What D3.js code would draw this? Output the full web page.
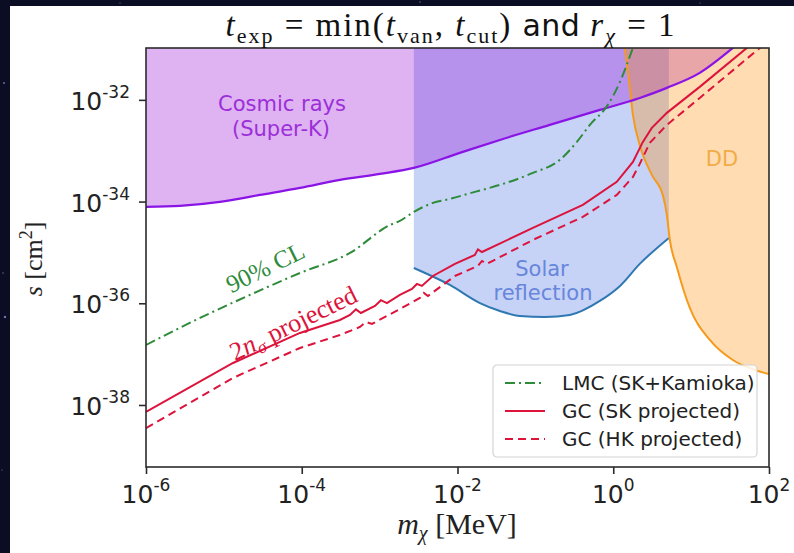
<!DOCTYPE html>
<html>
<head>
<meta charset="utf-8">
<script src="https://cdn.jsdelivr.net/npm/d3@7"></script>
<style>
  html, body { margin: 0; padding: 0; background: #0b0d24; }
  svg { display: block; }
  text { white-space: pre; }
</style>
</head>
<body>
<svg id="chart" width="794" height="553"></svg>
<script>
// ---- axis ticks ----
const xTicks = [1e-6, 1e-4, 1e-2, 1e0, 1e2];
const xTickExps = ["-6", "-4", "-2", "0", "2"];
const yTicks = [1e-32, 1e-34, 1e-36, 1e-38];
const yTickExps = ["-32", "-34", "-36", "-38"];

// ---- Cosmic rays (Super-K) exclusion boundary: m_chi [MeV], s [cm^2] ----
const cosmicMass = [1e-6, 2.73e-6, 8.91e-6, 2.90e-5, 9.48e-5, 3.09e-4, 1.01e-3, 2.75e-3,
                    0.0107, 0.035, 0.153, 0.673, 2.19, 4.88, 12.9, 34.3, 48.9];
const cosmicS    = [7.85e-35, 8.22e-35, 9.84e-35, 1.35e-34, 1.86e-34, 2.67e-34, 3.50e-34, 4.59e-34,
                    9.06e-34, 1.63e-33, 3.22e-33, 6.36e-33, 1.09e-32, 1.72e-32, 3.40e-32, 1.05e-31, 1.66e-31];

// ---- Solar reflection lower boundary ----
const solarMass = [2.75e-3, 7.98e-3, 0.0194, 0.035, 0.0632, 0.132, 0.277, 0.673, 1.22, 2.19, 5.18];
const solarS    = [4.95e-36, 2.29e-36, 1.01e-36, 7.06e-37, 5.63e-37, 5.38e-37, 5.89e-37,
                   1.11e-36, 2.19e-36, 5.94e-36, 1.93e-35];

// ---- Direct detection (DD) boundary ----
const ddMass = [1.33, 1.41, 1.59, 1.79, 2.19, 3.13, 4.33, 4.88, 5.33, 6.55, 9.62, 17.4, 34.3, 65.8, 100];
const ddS    = [2.2e-31, 1.05e-31, 2.47e-32, 5.07e-33, 1.30e-33, 3.34e-34, 1.35e-34, 5.47e-35,
                1.76e-35, 5.19e-36, 8.09e-37, 1.90e-37, 7.67e-38, 4.88e-38, 4.06e-38];

// ---- LMC (SK+Kamioka) 90% CL ----
const lmcMass = [1e-6, 4.93e-6, 2.16e-5, 9.48e-5, 4.16e-4, 1.36e-3, 1.82e-3, 2.75e-3, 4.83e-3,
                 7.98e-3, 0.0167, 0.035, 0.0929, 0.206, 0.341, 0.501, 0.853, 1.22, 1.79, 2.07];
const lmcS    = [1.51e-37, 5.14e-37, 1.46e-36, 3.94e-36, 9.77e-36, 3.47e-35, 4.17e-35, 6.26e-35, 9.41e-35,
                 1.13e-34, 1.55e-34, 2.13e-34, 3.66e-34, 6.61e-34, 1.49e-33, 3.22e-33, 7.98e-33, 2.26e-32,
                 1.05e-31, 1.9e-31];

// ---- GC (SK projected), 2 n_sigma ----
const gcSKMass = [1e-6, 1.31e-5, 9.48e-5, 3.09e-4, 4.16e-4, 4.97e-4, 5.75e-4, 8.71e-4, 1.04e-3, 1.24e-3,
                  1.82e-3, 2.60e-3, 3.01e-3, 3.49e-3, 4.83e-3, 9.27e-3, 0.0167, 0.0183, 0.0206, 0.0929,
                  0.407, 1.11, 1.79, 2.40, 3.13, 4.88, 12.9, 51.9, 65.8];
const gcSKS    = [7.28e-39, 6.70e-38, 2.61e-37, 4.70e-37, 5.89e-37, 7.6e-37, 6.45e-37, 8.85e-37, 1.15e-36,
                  1.01e-36, 1.46e-36, 1.91e-36, 2.4e-36, 2.19e-36, 3.44e-36, 5.94e-36, 8.92e-36, 1.15e-35,
                  1.02e-35, 3.03e-35, 8.6e-35, 2.44e-34, 6.03e-34, 1.49e-33, 2.81e-33, 5.55e-33, 1.80e-32,
                  1.05e-31, 1.45e-31];

// ---- GC (HK projected), 2 n_sigma ----
const gcHKMass = [1e-6, 1.31e-5, 9.48e-5, 3.09e-4, 5.59e-4, 6.67e-4, 7.96e-4, 1.82e-3, 3.29e-3, 3.70e-3,
                  4.17e-3, 9.27e-3, 0.0183, 0.0206, 0.0238, 0.0929, 0.407, 1.11, 1.79, 2.19, 2.95, 4.88,
                  12.9, 76.2, 96.6];
const gcHKS    = [3.52e-39, 3.40e-38, 1.32e-37, 2.38e-37, 3.42e-37, 4.3e-37, 3.92e-37, 7.73e-37, 1.27e-36,
                  1.6e-36, 1.39e-36, 3.44e-36, 5.42e-36, 6.8e-36, 5.94e-36, 1.76e-35, 4.99e-35, 1.35e-34,
                  3.05e-34, 5.51e-34, 1.43e-33, 3.22e-33, 1.09e-32, 1.05e-31, 1.38e-31];

// ---- legend ----
const legendLabels = ["LMC (SK+Kamioka)", "GC (SK projected)", "GC (HK projected)"];

const zip = (xs, ys) => xs.map((v, i) => [v, ys[i]]);

const svg = d3.select("#chart");
const W = 794, H = 553;
const plot = { left: 146, right: 769, top: 48, bottom: 467 };

// dark backdrop with a few stars, white figure panel on top
svg.append("rect").attr("width", W).attr("height", H).attr("fill", "#0b0d24");
const stars = [[4, 83, 0.9], [3, 273, 0.7], [5, 317, 1.2], [2, 470, 0.6], [120, 3, 0.6], [420, 2, 0.7], [700, 3, 0.6]];
svg.selectAll("circle.star").data(stars).join("circle")
  .attr("class", "star").attr("cx", d => d[0]).attr("cy", d => d[1]).attr("r", d => d[2])
  .attr("fill", "#9aa6d8").attr("opacity", 0.7);
svg.append("rect").attr("x", 10).attr("y", 6).attr("width", W - 10).attr("height", H - 6).attr("fill", "#ffffff");

const x = d3.scaleLog().domain([1e-6, 1e2]).range([plot.left, plot.right]);
const y = d3.scaleLog().domain([6.03e-40, 1.047e-31]).range([plot.bottom, plot.top]);

svg.append("clipPath").attr("id", "clip")
  .append("rect").attr("x", plot.left).attr("y", plot.top)
  .attr("width", plot.right - plot.left).attr("height", plot.bottom - plot.top);

const g = svg.append("g").attr("clip-path", "url(#clip)");

const smooth = d3.line().x(d => x(d[0])).y(d => y(d[1])).curve(d3.curveMonotoneX);
const straight = d3.line().x(d => x(d[0])).y(d => y(d[1]));
const areaAbove = d3.area().x(d => x(d[0])).y0(plot.top - 20).y1(d => y(d[1])).curve(d3.curveMonotoneX);

const cosmic = zip(cosmicMass, cosmicS);
const solar = zip(solarMass, solarS);
const dd = zip(ddMass, ddS);

// filled regions
g.append("path").attr("d", areaAbove(solar)).attr("fill", "#4169e1").attr("fill-opacity", 0.3);
g.append("path").attr("d", areaAbove(cosmic)).attr("fill", "#9400d3").attr("fill-opacity", 0.3);
const ddPoly = dd.concat([[x.domain()[1] * 2, ddS[ddS.length - 1]], [x.domain()[1] * 2, y.domain()[1] * 10], [ddMass[0], y.domain()[1] * 10]]);
g.append("path").attr("d", straight(ddPoly)).attr("fill", "#ff8c00").attr("fill-opacity", 0.3);

// region boundaries
g.append("path").attr("d", smooth(solar)).attr("fill", "none").attr("stroke", "#2f78b2").attr("stroke-width", 2);
g.append("path").attr("d", smooth(dd)).attr("fill", "none").attr("stroke", "#f59a1c").attr("stroke-width", 2);
g.append("path").attr("d", smooth(cosmic)).attr("fill", "none").attr("stroke", "#8a14e6").attr("stroke-width", 2.2);

// limit curves
g.append("path").attr("d", smooth(zip(lmcMass, lmcS))).attr("fill", "none")
  .attr("stroke", "#2e8b3a").attr("stroke-width", 2).attr("stroke-dasharray", "10,4,2,4");
g.append("path").attr("d", straight(zip(gcSKMass, gcSKS))).attr("fill", "none")
  .attr("stroke", "#dc143c").attr("stroke-width", 2);
g.append("path").attr("d", straight(zip(gcHKMass, gcHKS))).attr("fill", "none")
  .attr("stroke", "#dc143c").attr("stroke-width", 2).attr("stroke-dasharray", "8,5");

// region labels
const sans = "DejaVu Sans, sans-serif";
const serif = "Liberation Serif, Times New Roman, serif";
function label(txt, px, py, color, size) {
  svg.append("text").attr("x", px).attr("y", py).attr("text-anchor", "middle")
    .attr("font-family", sans).attr("font-size", size).attr("fill", color).text(txt);
}
label("Cosmic rays", 282, 111, "#9b2fd8", 21);
label("(Super-K)", 281, 136, "#9b2fd8", 21);
label("Solar", 542, 276, "#6786dc", 21);
label("reflection", 543, 300, "#6786dc", 21);
label("DD", 722, 166, "#f2ac45", 21);

svg.append("text").attr("transform", "translate(269,275) rotate(-26)")
  .attr("text-anchor", "middle").attr("font-family", serif).attr("font-size", 25)
  .attr("fill", "#2e8b3a").text("90% CL");

const proj = svg.append("text").attr("transform", "translate(297,331) rotate(-26)")
  .attr("text-anchor", "middle").attr("font-family", serif).attr("font-size", 26).attr("fill", "#dc143c");
proj.append("tspan").text("2");
proj.append("tspan").attr("font-style", "italic").text("n");
proj.append("tspan").attr("font-style", "italic").attr("font-size", 18).attr("dy", 5).text("σ");
proj.append("tspan").attr("dy", -5).text(" projected");

// axes frame
svg.append("rect").attr("x", plot.left).attr("y", plot.top)
  .attr("width", plot.right - plot.left).attr("height", plot.bottom - plot.top)
  .attr("fill", "none").attr("stroke", "#2b2b2b").attr("stroke-width", 1.6);

const xAxis = svg.append("g").attr("transform", `translate(0,${plot.bottom})`)
  .call(d3.axisBottom(x).tickValues(xTicks).tickSize(7).tickFormat(""));
const yAxis = svg.append("g").attr("transform", `translate(${plot.left},0)`)
  .call(d3.axisLeft(y).tickValues(yTicks).tickSize(7).tickFormat(""));
[xAxis, yAxis].forEach(a => {
  a.select(".domain").remove();
  a.selectAll(".tick line").attr("stroke", "#2b2b2b").attr("stroke-width", 1.6);
});

// power-of-ten tick labels
xTicks.forEach((v, i) => {
  const t = svg.append("text").attr("x", x(v)).attr("y", plot.bottom + 36)
    .attr("text-anchor", "middle").attr("font-family", sans).attr("font-size", 25).attr("fill", "#222");
  t.append("tspan").text("10");
  t.append("tspan").attr("font-size", 17).attr("dy", -12).text(xTickExps[i]);
});
yTicks.forEach((v, i) => {
  const t = svg.append("text").attr("x", 130).attr("y", y(v) + 10)
    .attr("text-anchor", "end").attr("font-family", sans).attr("font-size", 25).attr("fill", "#222");
  t.append("tspan").text("10");
  t.append("tspan").attr("font-size", 17).attr("dy", -12).text(yTickExps[i]);
});

// axis titles
const yl = svg.append("text").attr("transform", "translate(42,259) rotate(-90)")
  .attr("text-anchor", "middle").attr("font-family", serif).attr("font-size", 26).attr("fill", "#222");
yl.append("tspan").attr("font-style", "italic").text("s");
yl.append("tspan").text(" [cm");
yl.append("tspan").attr("font-size", 18).attr("dy", -10).text("2");
yl.append("tspan").attr("dy", 10).text("]");

const xl = svg.append("text").attr("x", 457).attr("y", 534)
  .attr("text-anchor", "middle").attr("font-family", serif).attr("font-size", 30).attr("fill", "#222");
xl.append("tspan").attr("font-style", "italic").text("m");
xl.append("tspan").attr("font-style", "italic").attr("font-size", 20).attr("dy", 6).text("χ");
xl.append("tspan").attr("dy", -6).text(" [MeV]");

// title
const tt = svg.append("text").attr("x", 451).attr("y", 36)
  .attr("text-anchor", "middle").attr("font-family", serif).attr("font-size", 33)
  .attr("letter-spacing", 2).attr("fill", "#111");
function sub(s, italic) {
  tt.append("tspan").attr("font-size", 22).attr("dy", 7).attr("font-style", italic ? "italic" : "normal").text(s);
}
tt.append("tspan").attr("font-style", "italic").text("t");
sub("exp");
tt.append("tspan").attr("dy", -7).text(" = min(");
tt.append("tspan").attr("font-style", "italic").text("t");
sub("van");
tt.append("tspan").attr("dy", -7).text(", ");
tt.append("tspan").attr("font-style", "italic").text("t");
sub("cut");
tt.append("tspan").attr("dy", -7).text(")");
tt.append("tspan").attr("font-family", sans).attr("font-size", 30).attr("letter-spacing", 0.5).text(" and ");
tt.append("tspan").attr("font-style", "italic").text("r");
sub("χ", true);
tt.append("tspan").attr("dy", -7).text(" = 1");

// legend
const lg = svg.append("g").attr("transform", "translate(493,365)");
lg.append("rect").attr("width", 264).attr("height", 92).attr("rx", 4)
  .attr("fill", "#ffffff").attr("fill-opacity", 0.85).attr("stroke", "#d4d4d4").attr("stroke-width", 1.2);
const legendStyle = [
  { color: "#2e8b3a", dash: "10,4,2,4" },
  { color: "#dc143c", dash: null },
  { color: "#dc143c", dash: "8,5" }
];
legendLabels.forEach((lab, i) => {
  const cy = 18 + i * 28;
  lg.append("line").attr("x1", 12).attr("x2", 52).attr("y1", cy).attr("y2", cy)
    .attr("stroke", legendStyle[i].color).attr("stroke-width", 2)
    .attr("stroke-dasharray", legendStyle[i].dash);
  lg.append("text").attr("x", 69).attr("y", cy + 7).attr("font-family", sans)
    .attr("font-size", 20).attr("fill", "#222").text(lab);
});
</script>
</body>
</html>
